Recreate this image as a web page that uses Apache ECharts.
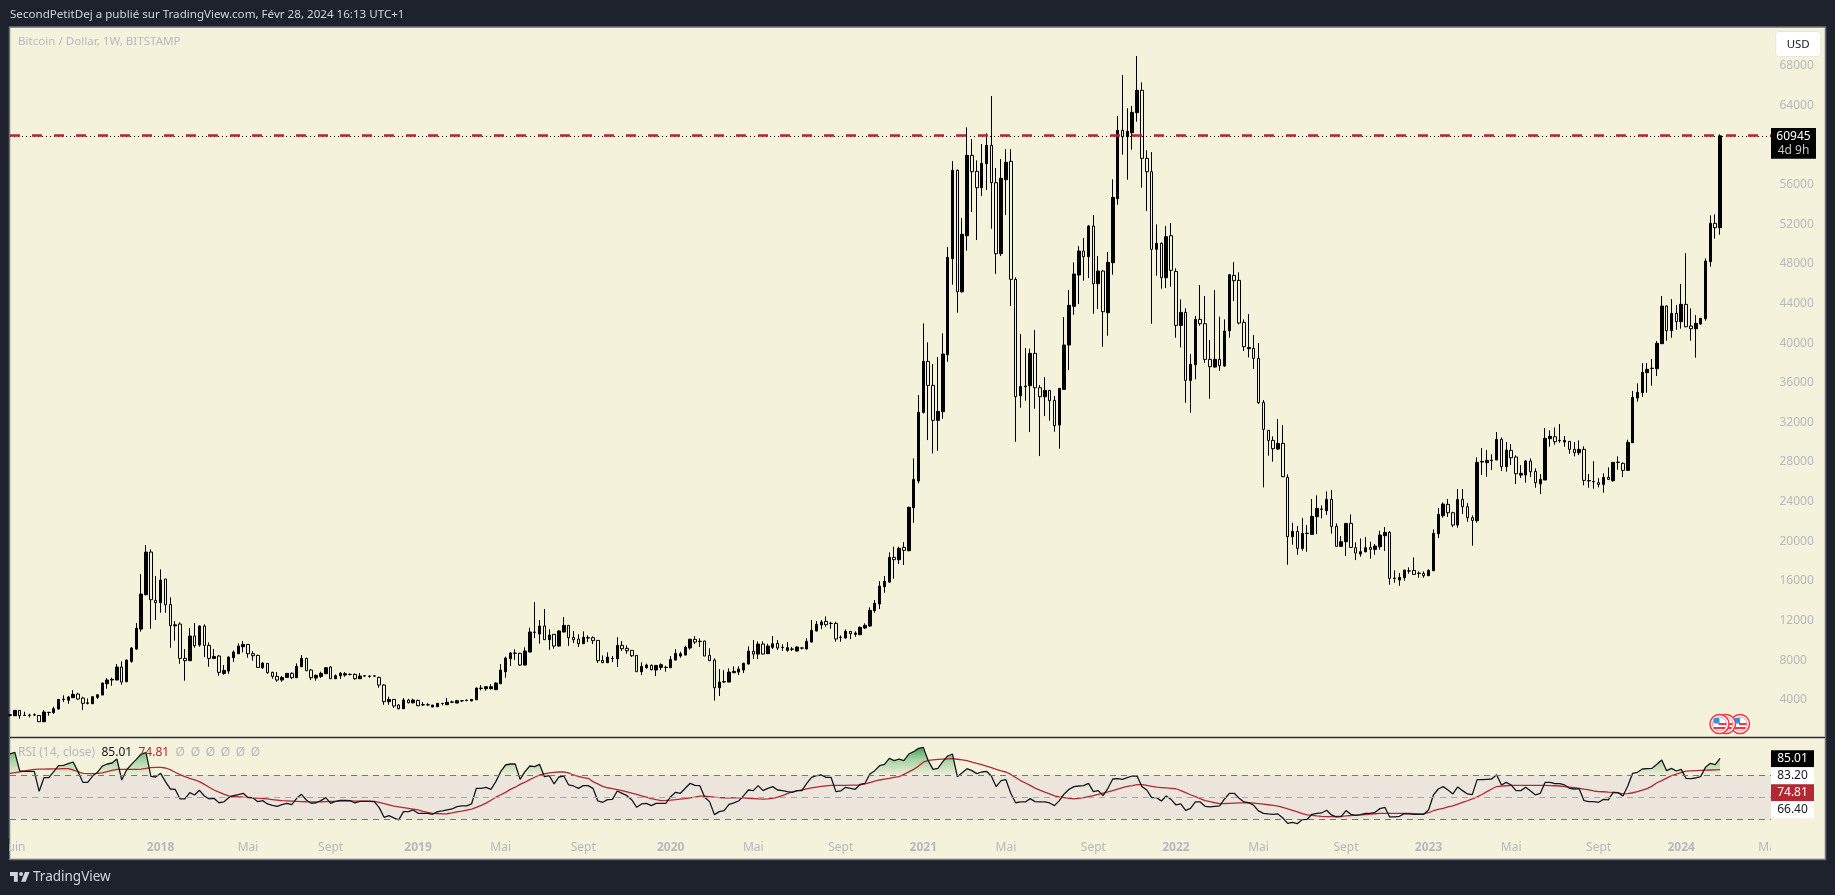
<!DOCTYPE html>
<html>
<head>
<meta charset="utf-8">
<title>Bitcoin / Dollar, 1W, BITSTAMP</title>
<script src="https://cdn.jsdelivr.net/npm/echarts@6/dist/echarts.min.js"></script>
<style>
  html, body { margin: 0; padding: 0; background: #1e222d; }
  #chart { width: 1835px; height: 895px; }
</style>
</head>
<body>
<div id="chart"></div>
<script>
// weekly candles, first bar is the week of 2017-05-29
const opens = [
  2420,2381,2920,2440,2420,2450,2410,1775,2700,2700,
  3050,4030,3950,4200,4570,4165,3630,3590,4240,4470,
  5610,5990,5985,7300,5810,7870,9115,11130,14600,18910,
  14030,13800,16190,13620,11460,11640,8170,7940,10430,9520,
  11440,9486,8170,8410,6658,6890,8240,8640,9350,9585,
  8645,8475,7230,7668,6760,6355,5985,6250,6660,6220,
  7330,8170,6995,6185,6355,6625,7300,6120,6420,6490,
  6560,6555,6120,6390,6350,6390,6250,5480,3800,4030,
  3460,3090,3960,3690,3930,3470,3480,3260,3290,3610,
  3490,3750,3660,3890,3920,3870,3990,5140,5110,5110,
  5010,5615,6830,8140,8680,8680,7500,8815,10800,10630,
  11440,10060,10600,9420,10835,11505,10295,10125,9655,10230,
  10260,9990,7970,7735,8160,8140,9485,9185,8980,8475,
  6830,7230,7465,6995,7265,7250,7230,8005,8410,8510,
  9220,10095,9880,9925,8475,8005,5210,5790,5780,6725,
  6790,6995,7600,8880,8610,9620,8645,9285,9690,9270,
  8980,9100,8915,9210,9120,9825,10935,11540,11910,11700,
  11710,10290,10230,10900,10600,10565,11235,11440,12990,13660,
  15415,15880,18375,18140,19380,19045,23390,26085,33017,38168,
  35743,32210,33086,38840,48540,57460,45205,50862,58976,57360,
  55710,58134,59986,56215,49044,56518,58370,46451,34700,35600,
  35710,38977,35508,34599,35239,34229,31737,35340,39819,43724,
  46889,49313,48740,51838,46013,47293,43084,48135,54599,61501,
  60862,61266,63286,65542,58673,57326,49481,50087,46619,50862,
  47259,41804,43117,36249,37831,42410,41973,38370,37596,38370,
  37697,41265,46855,46350,42107,39450,39481,38471,34028,31200,
  30190,29315,29887,26453,20460,20998,19281,20780,20695,22480,
  23220,23086,24231,21504,19484,19955,21807,19349,18709,18945,
  19382,19180,19450,20560,20898,16251,16083,16318,16990,17059,
  16750,16756,16520,17025,20762,22581,23726,22885,21638,24231,
  23490,22379,22076,28000,27934,28150,28204,30291,27530,29180,
  28507,26688,26688,28103,27059,25780,26184,30360,30561,30157,
  30022,30089,29281,28945,29281,26100,26015,25914,25746,26453,
  26116,27968,27868,27160,29954,34466,35005,37025,37450,37430,
  39954,43759,41267,43018,42177,43927,41738,41469,41946,42480,
  48237,52109,51671
]
const highs = [
  2530,2940,2930,2780,2580,2620,2420,2950,2760,3290,
  4060,4440,4370,4980,4700,4300,4130,4320,4510,5720,
  6190,6220,7600,7870,8050,9320,11740,16690,19620,19180,
  16490,17160,16200,14335,11940,11810,9115,11235,11750,11510,
  11610,9790,9115,8510,7500,8375,8980,9690,9925,9590,
  8910,8540,7770,7670,6825,6790,6390,6690,6760,7670,
  8510,8240,7095,6555,6825,7300,7400,6555,6790,6790,
  6660,6660,6690,6455,6490,6490,6320,5550,4300,4040,
  3560,4170,4100,4100,4000,3760,3660,3470,3640,3640,
  4170,3900,3990,3905,4030,4040,5210,5480,5380,5550,
  5750,7600,8340,8810,9085,8745,9285,11270,13865,12045,
  13155,11100,10630,11035,12350,11540,10935,10600,10900,10495,
  10395,10025,8475,8780,8410,10330,9925,9485,8985,8510,
  7770,7640,7570,7500,7665,7430,8410,9115,8850,9450,
  10160,10430,10195,9960,9185,8175,7095,6995,7160,7365,
  7365,7735,9385,10025,9890,9890,9655,10430,10025,9590,
  9825,9320,9385,9285,10195,12045,11945,12045,12415,11875,
  11875,10500,11100,10935,10900,11405,11710,13325,14065,15985,
  16490,18880,19450,19450,19925,23500,28375,34770,42006,40088,
  37900,38600,41000,49717,58404,57562,52646,61805,60626,58471,
  60121,61198,64970,57697,58606,59616,59616,46653,40929,39515,
  39448,41333,35777,36586,35272,34667,35441,42647,45374,48168,
  49818,50626,51939,52949,48808,47394,49212,56552,62949,67091,
  63724,63960,69010,66350,59481,59313,52006,50188,51838,52141,
  47562,44431,43522,38909,42747,45878,44768,40323,45374,42680,
  42410,46990,48202,47158,42410,42949,40828,40020,34265,31200,
  30595,32345,31740,26756,21874,21537,22345,21638,24265,24635,
  23625,25039,25174,21807,20527,21807,22716,19887,20291,20426,
  19955,19719,21067,21436,21032,17060,16790,17092,17362,18372,
  16958,16958,17160,21200,23356,23928,24265,22986,25275,25275,
  23860,22615,28473,29416,29214,28776,31032,30494,30022,29820,
  28675,27700,28204,28372,27362,26790,31436,31200,31503,31840,
  30629,30089,30022,30190,29584,26790,28103,26386,26857,27463,
  27968,28574,27968,30258,35174,35948,38002,38002,38406,40224,
  44769,43826,44466,43860,45981,49112,43523,42850,42513,48574,
  52917,53018,61100
]
const lows = [
  2300,2370,2080,2390,2210,2350,1760,1760,2380,2550,
  3020,3760,3590,4190,3960,2950,3520,3580,4060,4460,
  5110,5410,5980,5510,5790,7730,9050,10870,14550,11170,
  12050,12785,12785,9250,9960,7630,5920,7940,9250,9350,
  8310,7330,8105,6420,6520,6620,7800,8610,8780,8240,
  7940,7230,7095,6620,6120,5815,5815,6220,6085,6185,
  7300,6890,5985,5920,6185,6590,6085,6085,6085,6320,
  6455,6020,6085,6290,6220,6290,5210,3490,3490,3155,
  3020,3055,3630,3620,3360,3360,3360,3250,3280,3430,
  3460,3660,3650,3760,3830,3860,3980,4940,4910,5040,
  4975,5580,6220,7400,8005,7400,7465,8780,10225,9655,
  10025,9015,9150,9350,10800,9420,9720,9320,9620,9820,
  9620,7700,7700,7700,7800,7300,8915,8645,8310,6825,
  6490,7130,6960,6390,6995,6825,7200,7970,8240,8475,
  9050,9620,9320,8410,7905,3900,4370,5710,5780,6690,
  6490,6690,7570,8105,8105,8580,8610,9115,9015,8915,
  8850,8915,8880,9080,9085,9790,10900,11135,11372,11170,
  9860,9860,10195,10125,10360,10530,11135,11370,12785,13155,
  14800,15800,16220,17700,17600,19000,21875,25850,32900,30222,
  28875,29140,32377,38134,45912,43084,45104,49347,53252,50424,
  54869,55474,51569,46989,48808,52950,43757,30054,33488,34195,
  31030,33387,28607,32647,32175,31063,29348,35340,37293,42848,
  43959,46316,46586,42983,43454,39650,40761,46923,53993,59043,
  56518,59549,62377,55710,53354,41972,46821,45508,45576,45710,
  40559,39582,33993,32983,36350,41771,38034,34397,37529,37226,
  37630,40559,44263,41905,39212,38572,37394,33858,25443,28642,
  28036,29214,26487,17632,19652,18642,19046,18945,20662,20729,
  22312,22649,20763,19450,19450,18507,19349,18103,18440,18877,
  18238,18642,19147,19022,15612,15813,15511,16015,16722,16621,
  16318,16318,16487,16991,20325,22379,22447,21436,21369,22749,
  21975,19551,21874,26689,26520,27194,28204,27093,27025,27699,
  25780,26386,25914,26487,25410,24770,26184,29550,29752,29955,
  29550,28844,28574,28709,25645,25410,25308,25443,24905,26184,
  26015,27228,26487,27130,29954,34096,34601,35005,35712,36689,
  39954,40257,40560,41368,41469,41604,40257,38540,41873,42278,
  47732,50560,50960
]
const closes = [
  2480,2920,2381,2400,2440,2470,1775,2750,2730,3090,
  4030,4060,4270,4540,4066,3630,3680,4300,4500,5680,
  5985,6050,7300,5780,8000,9220,11200,14670,18910,14100,
  13800,16085,13590,11470,11560,8170,7940,10430,9450,11440,
  9486,8170,8370,6760,6960,8300,8810,9420,9585,8645,
  8440,7260,7700,6725,6355,5985,6250,6660,6220,7365,
  8170,6925,6220,6455,6660,7230,6120,6420,6660,6625,
  6540,6120,6390,6410,6380,6400,5480,3800,4030,3360,
  3090,3960,3690,3960,3390,3500,3490,3460,3630,3630,
  3730,3770,3900,3900,3940,4030,5180,5170,5310,5310,
  5680,6995,8205,8710,8710,7500,8915,10835,10830,11440,
  10060,10530,9420,10935,11505,10260,10060,9655,10295,10260,
  9960,7940,7735,8305,8175,9485,9150,8945,8440,6830,
  7365,7500,7030,7465,7530,7265,8070,8680,8640,9285,
  10095,9820,9900,8410,7940,5210,5780,5815,6790,6860,
  7095,7670,8915,8610,9620,8610,9420,9655,9215,9285,
  9250,9115,9320,9225,9890,11000,11610,11845,11575,11710,
  10130,10300,10900,10665,10730,11305,11505,13020,13730,15480,
  15950,18375,18140,19280,19080,23425,26250,33017,38168,35743,
  32210,33120,38910,48674,57460,45205,50997,58976,57326,55710,
  58168,59986,56215,49044,56653,58269,46451,34599,35642,35676,
  38977,35508,34599,35239,34195,31670,35441,39819,43825,46989,
  49313,48740,51838,46013,47293,43185,48168,54734,61501,60862,
  61400,63320,65542,58673,57326,49481,50087,46619,50760,47360,
  41804,43117,36249,37865,42410,41973,38370,37630,38370,37731,
  41232,46922,46316,42040,39650,39580,38471,33993,31302,30190,
  29350,29887,26520,20460,20998,19281,20796,20815,22514,23322,
  23260,24231,21504,19484,19955,21807,19382,18810,18945,19349,
  19180,19517,20628,20898,16251,16280,16352,17092,17010,16655,
  16770,16520,17059,20796,22716,23759,22885,21638,24231,23490,
  22379,22110,27968,28069,28170,28204,30291,27530,29214,28440,
  26823,26857,28103,27025,25914,26251,30393,30595,30056,30190,
  30190,29281,28945,29281,26150,26130,26030,25746,26453,26251,
  27968,27990,27160,29988,34534,35039,37059,37362,37480,39988,
  43759,41267,43018,42177,43927,41671,41469,42008,42513,48304,
  52109,51671,60945
]

const rsi = [
  89,90.4,73.6,73.3,73.3,73.3,55.3,67.6,67.6,73,
  78.4,78.7,80.2,81.7,73,63.4,63.4,69,72.4,78,
  79.9,80.8,84.4,65.5,74.5,79.6,84.1,88.9,90.1,68.8,
  68.2,71.5,64,57.4,57.1,48.4,48.4,54.1,52,56.2,
  51.1,48.4,49,45,45.7,49.6,51.4,52.3,53.5,49.6,
  49.6,46,46.9,43.9,42.7,41.8,43.3,44.5,43.3,49,
  52.6,47.5,44.5,45,46.9,49.6,44.5,46.3,47.2,47.2,
  46.9,44.8,46.3,46.3,46.3,46,40.6,31.9,33.4,31.3,
  29.5,37,37,38.5,35.5,35.5,35.5,34.6,37,37.6,
  38.5,39.4,41.5,42.1,42.1,43.9,58,58,58.9,57.1,
  64,73,79,79.9,79.9,66.1,73,78.1,77.5,79.6,
  68.5,69.4,61.9,68.2,69.1,61,60.1,58,60.4,60.4,
  58,46.6,45.4,47.8,48.1,55.6,53.5,51.4,47.5,40.9,
  43.9,44.5,42.4,44.5,44.5,44.5,50.5,54.4,53.5,58,
  62.5,60.7,60.4,49.9,46,34.3,37,37.9,43.6,44.8,
  46.6,51.4,56.5,55.9,60.4,55.9,58,59.5,56.5,55.9,
  55,54.4,55.9,55.9,62.5,67.9,69.4,70,67.9,67.9,
  55,55.6,58.9,58,57.1,61.6,62.5,70.9,73.9,78.4,
  79.6,85,82.9,84.4,82.9,88.9,91,94,94.9,82.9,
  75.1,76,82,87.1,88.9,68.5,72.1,75.7,73.9,71.2,
  72.7,73.3,69.1,59.5,64.9,65.8,53.5,45,45.7,45.7,
  48.7,46,45.7,45.7,44.8,42.4,46.9,52.9,57.1,59.5,
  60.1,60.4,62.5,55,55.9,51.4,58,66.4,66.7,66.1,
  67.6,69.1,69.1,59.5,56.5,49.6,49.6,46.6,51.1,48,
  43,43.9,38.2,40,45.7,45.7,41.8,41.2,41.8,42.1,
  48.4,53.5,53.5,49,45.7,45,42.7,37.6,35.5,34.9,
  34.6,34.9,31.3,26.4,27.4,26.1,29.8,30.1,34.6,35.5,
  35.8,38.2,34,32.2,32.5,37.9,34.6,33.7,34.3,35.5,
  35.5,36.4,39.7,40.9,32.2,32.2,32.8,35.2,34.9,34.6,
  34.6,34.6,38.5,52,57.4,59.5,56.5,52.9,59.2,55.9,
  52.9,52.3,65.8,65.8,66.1,66.4,70.3,61,63.4,61,
  55.9,55.9,58.9,55.6,52,53.5,63.4,63.4,62.2,62.2,
  61,58,57.4,57.7,46.9,46,46,45.4,48,47.5,
  54.4,54.1,51.1,60.1,71.5,72.4,75.4,75.7,76,79.6,
  83.5,73.9,76,73.6,75.1,67,66.7,67.3,68.5,76.9,
  80.5,79.3,85.01
]
const rsiMa = [
  71.5,72.2,72.9,73.6,74.4,75.1,75.2,75.3,75.4,75.5,
  75.6,75.7,75.7,74.5,73,71.5,71.3,71.2,71.4,72,
  73,74.2,75.1,75.1,75,75,75.1,75.2,76,76.6,
  76.9,76.8,76.3,74.8,72.5,70.4,68.5,67,65.6,64,
  61.5,59,56.5,54.6,52.8,51.2,50.8,50.4,50.1,49.9,
  49.5,49.1,48.8,48.4,47.9,47.4,46.9,46.7,46.5,46.3,
  46.1,45.9,45.8,45.7,45.8,46,46.2,46.3,46.4,46.5,
  46.6,46.5,46.5,46.4,46.4,46.3,45.3,44.2,43.1,42,
  41.3,40.6,39.9,39.2,38.5,37.2,36.3,35.5,35.3,35,
  35.1,35.8,36.7,37.5,38.4,39.2,40.8,42.7,44.7,47.3,
  50,52.2,54.3,57,59,61.5,63.5,65.8,68,70,
  71,71.9,72.3,72.7,72.8,71.8,70,68.7,67.6,67,
  64,62,59.8,58.5,57.8,56.9,56,54.9,53.6,52.5,
  51.2,50,48.7,47.8,47,47.1,47.4,47.8,48.3,48.7,
  49.4,50.1,50.9,51,50.5,50,49.6,49.5,49.5,49.4,
  49.3,49.3,49,48.7,48.4,48.2,48.4,49,50,51.5,
  53.2,54.7,55.7,56.6,57.5,58.4,59.1,59.7,60.2,60.6,
  60.7,60.7,60.7,60.8,60.9,61,62,63.2,64.4,65.5,
  66.3,67,67.8,68.5,70.5,72.8,75,78,81.5,83.1,
  83.6,84.1,84.3,84.5,84.7,84.2,83.6,83,81.6,80.4,
  79.3,78,76.7,75.1,73.7,72.7,70.5,67.8,65,62.8,
  60.6,58.2,56.3,54.5,52.9,51.2,50.3,49.7,49,48.5,
  49,49.7,50.6,51.5,52.5,53.6,54.7,56,57.3,58.6,
  59.8,60.5,61.3,61.3,60.6,59.8,59,58.7,58.4,58,
  57.6,56,54.1,52.2,50.5,48.7,47,46,45,44.2,
  44.3,44.5,44.7,44.8,44.9,45,44.7,44.3,43.8,43.2,
  42.6,42,40.9,39.5,38.2,36.7,35.1,34.1,33.7,33.2,
  32.8,32.5,32.5,32.6,32.8,33.1,33.5,33.9,34.1,34.4,
  34.8,35.1,35.4,35.5,35.5,35.5,35.5,35.4,35.3,35.2,
  35,34.9,36,37.8,39,40,41.2,42.2,43.7,45.3,
  46.8,48.4,50.3,52.4,55,57.4,59.6,60,60.3,60.6,
  60.7,60.7,60.7,60.7,60.7,60.7,60.6,60.5,60.3,60.1,
  59.6,59.1,58.6,58,57.2,56.5,55.6,55.1,54.9,54.6,
  54.4,53.8,53,53.2,54,55,56.3,57.7,60,63,
  65,67.2,69.4,70.8,72.2,73.5,73.7,73.9,74.1,74.3,
  74.5,74.7,74.81
]

const tickWeeks = ['2017-06-05','2018-01-01','2018-05-07','2018-09-03','2019-01-07','2019-05-06','2019-09-02',
  '2020-01-06','2020-05-04','2020-09-07','2021-01-04','2021-05-03','2021-09-06','2022-01-03','2022-05-02',
  '2022-09-05','2023-01-02','2023-05-01','2023-09-04','2024-01-01','2024-05-06']
const tickNames = ['Juin','2018','Mai','Sept','2019','Mai','Sept','2020','Mai','Sept','2021','Mai','Sept',
  '2022','Mai','Sept','2023','Mai','Sept','2024','Mai']

const resistance = 61030
const rsiLevels = [70, 50, 30]

// category per week, runs on a little past the last bar like the real chart
const weeks = []
for (let i = 0; i < 364; i++) {
  weeks.push(new Date(Date.UTC(2017, 4, 29 + i * 7)).toISOString().slice(0, 10))
}
const tickMap = new Map(tickWeeks.map((w, i) => [w, tickNames[i]]))

const BG = '#f5f2dc'
const GREY = '#b6b7bf'
const RED = '#b22833'
const FONT = '"Noto Sans", sans-serif'

const txt = (x, y, text, fill, size, align, weight) => ({
  type: 'text', x, y, z: 30, silent: true,
  style: {
    text, fill,
    font: (weight || 'normal') + ' ' + size + 'px ' + FONT,
    textAlign: align || 'left',
    textVerticalAlign: 'middle'
  }
})
const box = (x, y, width, height, fill, z, extra) => ({
  type: 'rect', z: z, silent: true,
  shape: Object.assign({ x, y, width, height }, extra && extra.shape),
  style: Object.assign({ fill }, extra && extra.style)
})

// the economic event badge under the chart
const flag = (cx, cy, z) => ({
  type: 'group', x: cx, y: cy, silent: true,
  children: [
    { type: 'circle', z, shape: { r: 9.5 }, style: { fill: '#fff', stroke: '#f23645', lineWidth: 1.5 } },
    { type: 'circle', z, shape: { r: 7 }, style: { fill: '#fff', stroke: '#f77c80', lineWidth: 0.8 } },
    { type: 'rect', z, shape: { x: -1, y: -1, width: 7.5, height: 2 }, style: { fill: '#f23645' } },
    { type: 'rect', z, shape: { x: -6, y: 3, width: 11.5, height: 2 }, style: { fill: '#f23645' } },
    { type: 'rect', z, shape: { x: -6, y: -6, width: 6, height: 5.5, r: 1 }, style: { fill: '#3d8ee8' } }
  ]
})

const chart = echarts.init(document.getElementById('chart'))

const lastClose = closes[closes.length - 1]
const lastRsi = rsi[rsi.length - 1]
const lastMa = rsiMa[rsiMa.length - 1]

const option = {
  animation: false,
  backgroundColor: '#1e222d',
  textStyle: { fontFamily: FONT },
  grid: [
    { left: 10, top: 26.4, width: 1763.5, height: 712.9 },
    { left: 10, top: 738, width: 1763.5, height: 100 }
  ],
  xAxis: [
    {
      type: 'category', gridIndex: 0, data: weeks, boundaryGap: false,
      axisLine: { show: false }, axisTick: { show: false }, axisLabel: { show: false }, splitLine: { show: false }
    },
    {
      type: 'category', gridIndex: 1, data: weeks, boundaryGap: false,
      axisLine: { show: false }, axisTick: { show: false }, splitLine: { show: false },
      axisLabel: {
        color: GREY, fontSize: 12, margin: 2, lineHeight: 16, fontFamily: FONT,
        interval: (idx, w) => tickMap.has(w),
        formatter: w => {
          const name = tickMap.get(w) || ''
          return /^\d+$/.test(name) ? '{y|' + name + '}' : name
        },
        rich: { y: { color: GREY, fontSize: 12, fontWeight: 'bold', fontFamily: FONT } }
      }
    }
  ],
  yAxis: [
    {
      type: 'value', gridIndex: 0, position: 'right', min: 0, max: 72000, interval: 4000,
      axisLine: { show: false }, axisTick: { show: false }, splitLine: { show: false },
      axisLabel: {
        color: GREY, fontSize: 12, margin: 6, showMinLabel: false, showMaxLabel: false, fontFamily: FONT,
        formatter: v => String(v)
      }
    },
    {
      type: 'value', gridIndex: 1, min: 13.24, max: 103.33,
      axisLine: { show: false }, axisTick: { show: false }, axisLabel: { show: false }, splitLine: { show: false }
    }
  ],
  series: [
    {
      name: 'BTCUSD',
      type: 'candlestick',
      xAxisIndex: 0, yAxisIndex: 0,
      barWidth: 3,
      data: opens.map((o, i) => [o, closes[i], lows[i], highs[i]]),
      itemStyle: { color: '#000', color0: BG, borderColor: '#000', borderColor0: '#000', borderWidth: 1 },
      markLine: {
        silent: true, animation: false, symbol: ['none', 'none'], label: { show: false },
        data: [
          { yAxis: lastClose, lineStyle: { color: '#000', width: 1, type: [1, 3], opacity: 1 } },
          { yAxis: resistance, lineStyle: { color: RED, width: 2.5, type: [10, 12], opacity: 1 } }
        ]
      }
    },
    {
      name: 'fill',
      type: 'line',
      xAxisIndex: 1, yAxisIndex: 1,
      data: rsi.map(v => Math.max(v, rsiLevels[0])),
      symbol: 'none', silent: true, z: 2,
      lineStyle: { width: 0 },
      areaStyle: {
        origin: rsiLevels[0], opacity: 1,
        color: {
          type: 'linear', global: true, x: 0, y: 746, x2: 0, y2: 775,
          colorStops: [
            { offset: 0, color: '#3f9a55' },
            { offset: 0.45, color: '#a3d1a0' },
            { offset: 1, color: '#eeeed6' }
          ]
        }
      }
    },
    {
      name: 'RSI',
      type: 'line',
      xAxisIndex: 1, yAxisIndex: 1,
      data: rsi,
      symbol: 'none', silent: true, z: 4,
      lineStyle: { color: '#131722', width: 1.3 },
      markArea: {
        silent: true, animation: false,
        itemStyle: { color: '#ebe5dc', opacity: 1 },
        data: [[{ yAxis: rsiLevels[0] }, { yAxis: rsiLevels[2] }]]
      },
      markLine: {
        silent: true, animation: false, symbol: ['none', 'none'], label: { show: false },
        data: [
          { yAxis: rsiLevels[0], lineStyle: { color: '#74757c', width: 1, type: [6, 5], opacity: 1 } },
          { yAxis: rsiLevels[1], lineStyle: { color: '#a9a9ab', width: 1, type: [6, 5], opacity: 1 } },
          { yAxis: rsiLevels[2], lineStyle: { color: '#74757c', width: 1, type: [6, 5], opacity: 1 } }
        ]
      }
    },
    {
      name: 'RSI MA',
      type: 'line',
      xAxisIndex: 1, yAxisIndex: 1,
      data: rsiMa,
      symbol: 'none', silent: true, z: 3,
      lineStyle: { color: RED, width: 1.3 }
    }
  ],
  graphic: {
    elements: [
      // panel behind the series
      box(9.5, 27, 1816, 832.5, BG, -10, { style: { stroke: '#6f727c', lineWidth: 1.5 } }),

      // covers for what sticks out of the panes
      box(0, 838, 9, 20, '#1e222d', 20),
      box(1771, 738, 53, 120, BG, 20),
      { type: 'line', z: 21, silent: true, shape: { x1: 10, y1: 737.5, x2: 1825, y2: 737.5 }, style: { stroke: '#2a2e39', lineWidth: 1.5 } },

      // header and footer
      txt(10, 14.5, 'SecondPetitDej a publié sur TradingView.com, Févr 28, 2024 16:13 UTC+1', '#d1d4dc', 11.6),
      txt(18, 41.5, 'Bitcoin / Dollar, 1W, BITSTAMP', '#b9b9c1', 11.6),
      {
        type: 'group', x: 8.7, y: 868.1, scaleX: 0.65, scaleY: 0.65, silent: true,
        children: [
          { type: 'polygon', z: 30, shape: { points: [[2, 6], [14, 6], [14, 21], [8, 21], [8, 12], [2, 12]] }, style: { fill: '#d1d4dc' } },
          { type: 'polygon', z: 30, shape: { points: [[25, 6], [32, 6], [26, 21], [19, 21]] }, style: { fill: '#d1d4dc' } },
          { type: 'circle', z: 30, shape: { cx: 19, cy: 9, r: 3 }, style: { fill: '#d1d4dc' } }
        ]
      },
      txt(33, 877, 'TradingView', '#d1d4dc', 13.5),

      // USD button
      box(1775.7, 31.5, 45, 25, '#fff', 30, { shape: { r: 3 }, style: { stroke: '#e6e6e6', lineWidth: 1 } }),
      txt(1798.2, 44.5, 'USD', '#131722', 11.5, 'center'),

      // last price
      box(1771, 128, 45, 30.7, '#000', 30),
      txt(1793.5, 136.5, String(lastClose), '#fff', 12, 'center'),
      txt(1793.5, 151, '4d 9h', '#c9c9c9', 12, 'center'),

      // RSI legend
      txt(18, 753, 'RSI (14, close)', GREY, 12),
      txt(101.5, 753, lastRsi.toFixed(2), '#131722', 12),
      txt(138.5, 753, lastMa.toFixed(2), RED, 12),
      txt(175.5, 753, 'Ø', GREY, 12),
      txt(190.7, 753, 'Ø', GREY, 12),
      txt(205.7, 753, 'Ø', GREY, 12),
      txt(220.7, 753, 'Ø', GREY, 12),
      txt(235.7, 753, 'Ø', GREY, 12),
      txt(250.7, 753, 'Ø', GREY, 12),

      // RSI value boxes
      box(1771, 750.3, 43, 17, '#000', 30),
      txt(1792.5, 759, lastRsi.toFixed(2), '#fff', 12, 'center'),
      box(1771, 767.3, 43, 17, '#fff', 30),
      txt(1792.5, 776, '83.20', '#131722', 12, 'center'),
      box(1771, 784.3, 43, 17, RED, 30),
      txt(1792.5, 793, lastMa.toFixed(2), '#fff', 12, 'center'),
      box(1771, 801.3, 43, 17, '#fff', 30),
      txt(1792.5, 810, '66.40', '#131722', 12, 'center'),

      // event flags, left one sits on top
      flag(1740, 724, 7),
      flag(1726, 724, 8),
      flag(1719.5, 724, 9)
    ]
  }
}

chart.setOption(option)
window.addEventListener('resize', () => chart.resize())
</script>
</body>
</html>
